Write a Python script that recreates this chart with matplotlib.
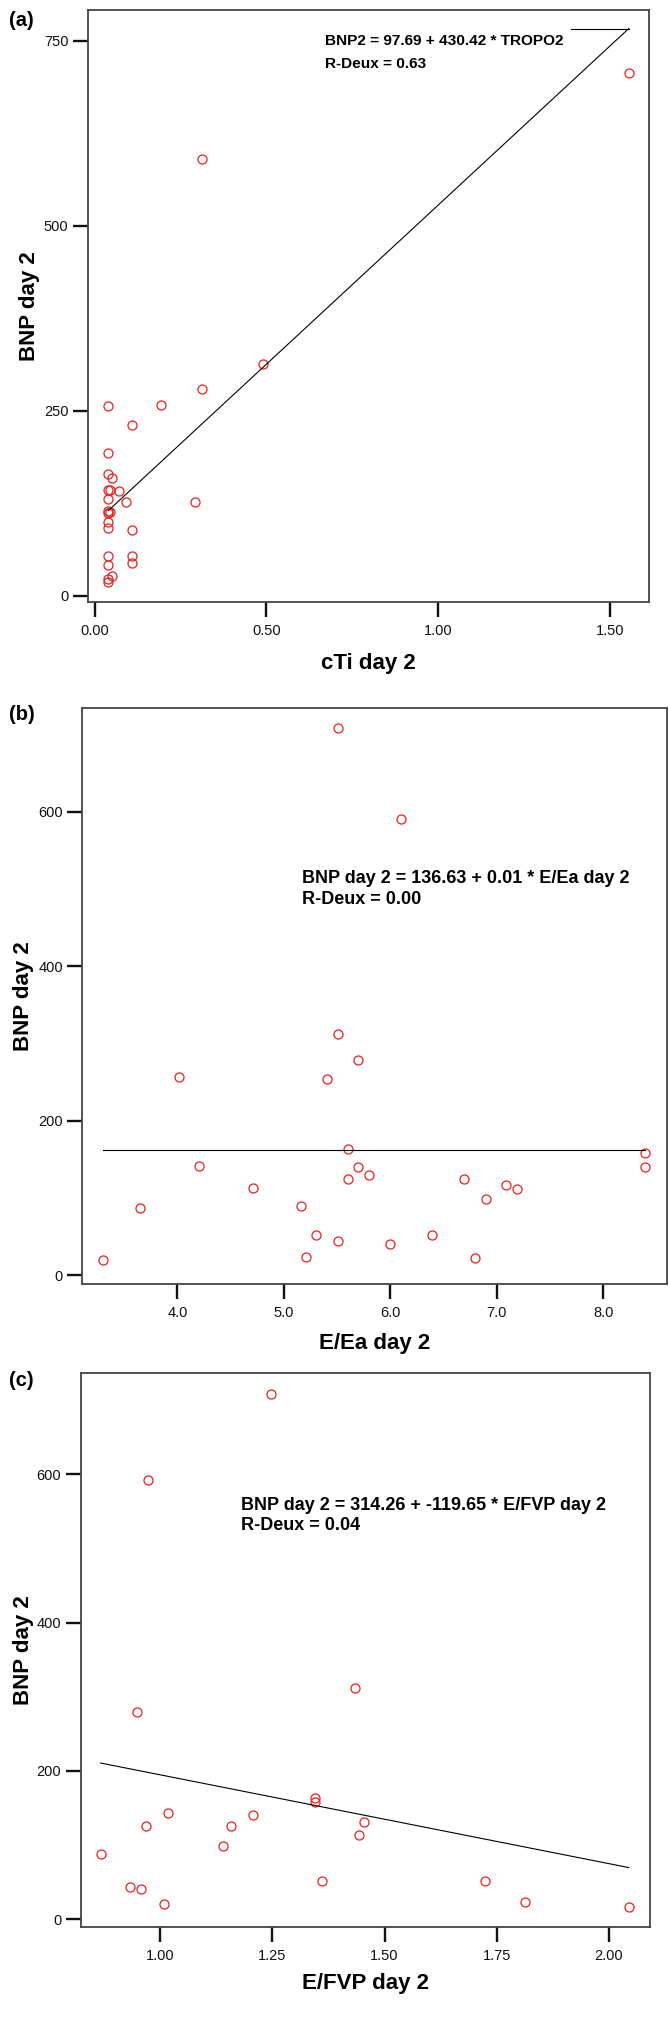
import numpy as np
import matplotlib.pyplot as plt

plt.rcParams['font.family'] = ['Liberation Sans', 'DejaVu Sans']

# (a) cTi day 2 vs BNP day 2
cti = [1.553, 0.313, 0.49, 0.313, 0.192, 0.04, 0.11, 0.04, 0.04, 0.05,
       0.04, 0.045, 0.072, 0.04, 0.092, 0.292, 0.04, 0.04, 0.045, 0.04,
       0.04, 0.11, 0.04, 0.11, 0.11, 0.04, 0.05, 0.04, 0.04]
bnp_a = [706, 590, 313, 279, 258, 256, 231, 193, 165, 159,
         143, 143, 141, 131, 127, 127, 115, 112, 113, 100,
         91, 89, 53, 53, 44.5, 42, 26, 23, 19]
fit_a = (97.69, 430.42)
a_top_seg = [1.385, 1.553]

# (b) E/Ea day 2 vs BNP day 2
eea = [5.508, 6.10, 5.508, 5.695, 5.407, 4.012, 5.60, 8.394, 8.394, 4.2,
       5.695, 5.797, 5.60, 6.695, 7.085, 7.19, 4.711, 6.90, 3.65, 5.159,
       5.305, 6.39, 5.508, 6.0, 5.203, 6.797, 3.30]
bnp_b = [708, 591, 312, 278, 254, 256, 164, 158, 140, 142,
         140, 130, 124.5, 124.5, 116.6, 111, 112.7, 98.7, 87, 89,
         51.6, 51.6, 43.7, 39.8, 24.1, 22.4, 20.2]
line_b = [161.5, 161.5]

# (c) E/FVP day 2 vs BNP day 2
efvp = [1.246, 0.972, 0.948, 1.435, 1.344, 1.344, 1.018, 1.207, 0.968, 1.157,
        1.455, 1.442, 1.139, 0.867, 0.933, 0.957, 1.360, 1.724, 1.008, 1.814,
        2.045]
bnp_c = [708, 592, 279, 312, 164, 158, 143, 141, 125, 125,
         131, 113, 99, 87.6, 43.8, 40.3, 52, 52, 20.4, 22.8,
         17]
fit_c = (314.26, -119.65)

fig = plt.figure(figsize=(6.69, 20.20), dpi=100)
W, H = 669, 2020


def make_axes(l, r, t, b):
    return fig.add_axes([l / W, 1 - b / H, (r - l) / W, (b - t) / H])


def style(ax, box, xticks, xfmt, yticks, xlim, ylim, xlabel, xlab_y, ylab_x):
    l, r, t, b = box
    ax.set_xlim(*xlim)
    ax.set_ylim(*ylim)
    ax.set_xticks(xticks)
    ax.set_xticklabels([xfmt.format(v) for v in xticks])
    ax.set_yticks(yticks)
    ax.tick_params(axis='both', length=11, width=1.7, labelsize=10.5,
                   colors='#111111', direction='out')
    ax.tick_params(axis='x', pad=5)
    ax.tick_params(axis='y', pad=3)
    for s in ax.spines.values():
        s.set_color('#444444')
        s.set_linewidth(1.3)
    ax.set_xlabel(xlabel, fontsize=16, fontweight='bold', va='center')
    ax.set_ylabel('BNP day 2', fontsize=16, fontweight='bold', va='center')
    ax.xaxis.set_label_coords(0.5, (b - xlab_y) / (b - t))
    ax.yaxis.set_label_coords((ylab_x - l) / (r - l), 0.5)


pts = dict(marker='o', linestyle='none', markersize=6.5, markerfacecolor='none',
           markeredgecolor='#e8201e', markeredgewidth=0.9)

# panel a
box_a = (88, 648.6, 9.5, 602)
ax1 = make_axes(*box_a)
ax1.plot(cti, bnp_a, **pts)
xa = np.array([min(cti), max(cti)])
ya = fit_a[0] + fit_a[1] * xa
ax1.plot(xa, ya, color='black', lw=0.8)
ax1.plot(a_top_seg, [ya[1], ya[1]], color='black', lw=0.8)
style(ax1, box_a, [0, 0.5, 1.0, 1.5], '{:.2f}', [0, 250, 500, 750],
      (-0.019, 1.611), (-8.5, 792), 'cTi day 2', 663, 30)
ax1.text(0.67, 749, 'BNP2 = 97.69 + 430.42 * TROPO2', fontsize=11.1,
         fontweight='bold', va='center', ha='left')
ax1.text(0.67, 719, 'R-Deux = 0.63', fontsize=11.1, fontweight='bold',
         va='center', ha='left')
fig.text(9 / W, 1 - 21 / H, '(a)', fontsize=14.5, fontweight='bold', va='center')

# panel b
box_b = (82.3, 667, 707.7, 1283.9)
ax2 = make_axes(*box_b)
ax2.plot(eea, bnp_b, **pts)
ax2.plot([min(eea), max(eea)], line_b, color='black', lw=0.8)
style(ax2, box_b, [4, 5, 6, 7, 8], '{:.1f}', [0, 200, 400, 600],
      (3.106, 8.598), (-11.2, 734.5), 'E/Ea day 2', 1343, 24)
ax2.text(5.167, 513, 'BNP day 2 = 136.63 + 0.01 * E/Ea day 2', fontsize=13,
         fontweight='bold', va='center', ha='left')
ax2.text(5.167, 486, 'R-Deux = 0.00', fontsize=13, fontweight='bold',
         va='center', ha='left')
fig.text(9 / W, 1 - 714 / H, '(b)', fontsize=14.5, fontweight='bold', va='center')

# panel c
box_c = (80.6, 650, 1373.3, 1927)
ax3 = make_axes(*box_c)
ax3.plot(efvp, bnp_c, **pts)
xc = np.array([min(efvp), max(efvp)])
ax3.plot(xc, fit_c[0] + fit_c[1] * xc, color='black', lw=0.8)
style(ax3, box_c, [1.0, 1.25, 1.5, 1.75, 2.0], '{:.2f}', [0, 200, 400, 600],
      (0.822, 2.092), (-10.5, 736), 'E/FVP day 2', 1983, 24)
ax3.text(1.18, 558, 'BNP day 2 = 314.26 + -119.65 * E/FVP day 2', fontsize=13,
         fontweight='bold', va='center', ha='left')
ax3.text(1.18, 530.5, 'R-Deux = 0.04', fontsize=13, fontweight='bold',
         va='center', ha='left')
fig.text(9 / W, 1 - 1381 / H, '(c)', fontsize=14.5, fontweight='bold', va='center')

fig.savefig('out.png', dpi=100)
